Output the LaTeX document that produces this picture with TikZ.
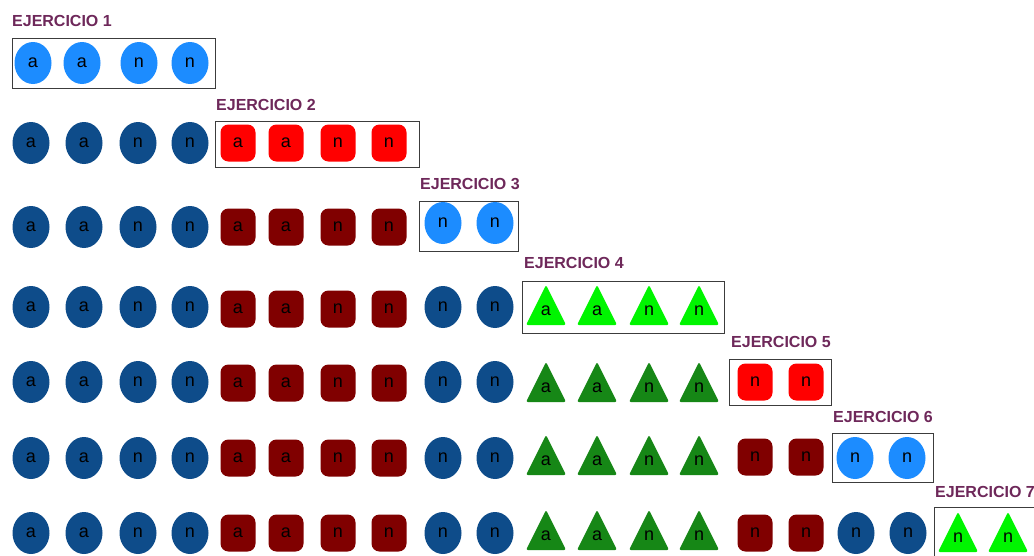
\documentclass[tikz,border=0pt]{standalone}
\usepackage{fontspec}
\setmainfont{Liberation Sans}
\usetikzlibrary{shapes.geometric}
\definecolor{lblue}{RGB}{28,140,255}
\definecolor{dblue}{RGB}{14,76,138}
\definecolor{lred}{RGB}{255,0,0}
\definecolor{dred}{RGB}{128,0,0}
\definecolor{lgreen}{RGB}{0,245,0}
\definecolor{dgreen}{RGB}{22,135,22}
\definecolor{lbl}{RGB}{110,40,90}
\definecolor{boxc}{RGB}{60,60,60}
\tikzset{
  lett/.style={font=\fontsize{18}{18}\selectfont, text=black, inner sep=0pt},
  circ/.style={ellipse, minimum width=37pt, minimum height=42pt, inner sep=0pt, lett},
  sq/.style={rectangle, rounded corners=8pt, minimum width=35pt, minimum height=37pt, inner sep=0pt, lett},
  frame/.style={draw=boxc, line width=1.2pt, anchor=north west, inner sep=0pt},
  ttl/.style={anchor=west, text=lbl, font=\bfseries\fontsize{16}{16}\selectfont, inner sep=0pt},
}
\newcommand\mktri[5]{%
  \fill[#3, rounded corners=2pt] (#1-20,#2+20) -- (#1,#2-20) -- (#1+20,#2+20) -- cycle;
  \node[lett] (#5) at (#1,#2+6) {#4};}
\begin{document}
\begin{tikzpicture}[x=1pt,y=-1pt]
\fill[white] (0,0) rectangle (1034,555);
\useasboundingbox (0,0) rectangle (1034,555);
\clip (0,0) rectangle (1034,555);
% group 1 : circles
\foreach \x/\l [count=\i] in {33/a,82/a,139/n,190/n}
  \node[circ, fill=lblue] (r1-c\i) at (\x,63) {\l};
\foreach \r/\y in {2/143,3/227,4/307,5/382,6/458,7/533}
  \foreach \x/\l [count=\i] in {31/a,84/a,138/n,190/n}
    \node[circ, fill=dblue] (r\r-c\i) at (\x,\y) {\l};
% group 2 : squares
\foreach \x/\l [count=\i from 5] in {238/a,286/a,338/n,389/n}
  \node[sq, fill=lred] (r2-c\i) at (\x,143) {\l};
\foreach \r/\y in {3/227,4/309,5/383,6/458,7/533}
  \foreach \x/\l [count=\i from 5] in {238/a,286/a,338/n,389/n}
    \node[sq, fill=dred] (r\r-c\i) at (\x,\y) {\l};
% group 3 : circles
\foreach \x/\l [count=\i from 9] in {443/n,495/n}
  \node[circ, fill=lblue] (r3-c\i) at (\x,223) {\l};
\foreach \r/\y in {4/307,5/382,6/458,7/533}
  \foreach \x/\l [count=\i from 9] in {443/n,495/n}
    \node[circ, fill=dblue] (r\r-c\i) at (\x,\y) {\l};
% group 4 : triangles
\foreach \x/\l [count=\i from 11] in {546/a,597/a,649/n,699/n}
  {\mktri{\x}{305}{lgreen}{\l}{r4-c\i}}
\foreach \r/\y in {5/382,6/455,7/530}
  \foreach \x/\l [count=\i from 11] in {546/a,597/a,649/n,699/n}
    {\mktri{\x}{\y}{dgreen}{\l}{r\r-c\i}}
% group 5 : squares
\foreach \x/\l [count=\i from 15] in {755/n,806/n}
  \node[sq, fill=lred] (r5-c\i) at (\x,382) {\l};
\foreach \r/\y in {6/457,7/533}
  \foreach \x/\l [count=\i from 15] in {755/n,806/n}
    \node[sq, fill=dred] (r\r-c\i) at (\x,\y) {\l};
% group 6 : circles
\foreach \x/\l [count=\i from 17] in {855/n,907/n}
  \node[circ, fill=lblue] (r6-c\i) at (\x,458) {\l};
\foreach \x/\l [count=\i from 17] in {856/n,908/n}
  \node[circ, fill=dblue] (r7-c\i) at (\x,533) {\l};
% group 7 : triangles
\foreach \x/\l [count=\i from 19] in {958/n,1008/n}
  {\mktri{\x}{532}{lgreen}{\l}{r7-c\i}}
% frames
\node[frame, minimum width=203pt, minimum height=50pt] (box1) at (12,38) {};
\node[frame, minimum width=204pt, minimum height=46pt] (box2) at (215,121) {};
\node[frame, minimum width=99pt, minimum height=50pt] (box3) at (419,201) {};
\node[frame, minimum width=202pt, minimum height=52pt] (box4) at (522,281) {};
\node[frame, minimum width=102pt, minimum height=46pt] (box5) at (729,359) {};
\node[frame, minimum width=101pt, minimum height=49pt] (box6) at (832,433) {};
\node[frame, minimum width=120pt, minimum height=60pt] (box7) at (934,507) {};
% titles
\node[ttl] (t1) at (12,21) {EJERCICIO 1};
\node[ttl] (t2) at (216,104.5) {EJERCICIO 2};
\node[ttl] (t3) at (420,183.5) {EJERCICIO 3};
\node[ttl] (t4) at (524,263) {EJERCICIO 4};
\node[ttl] (t5) at (731,341.5) {EJERCICIO 5};
\node[ttl] (t6) at (833,416.5) {EJERCICIO 6};
\node[ttl] (t7) at (935,492) {EJERCICIO 7};
\end{tikzpicture}
\end{document}
